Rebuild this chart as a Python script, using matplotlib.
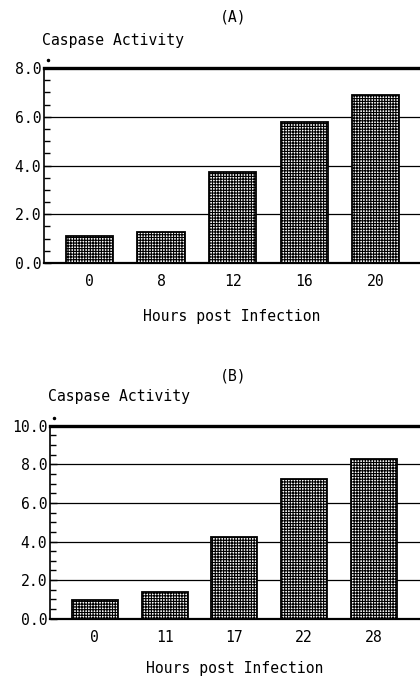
import matplotlib.pyplot as plt
from matplotlib.ticker import MultipleLocator, FormatStrFormatter

plt.rcParams["font.family"] = ["DejaVu Sans Mono"]
plt.rcParams["hatch.linewidth"] = 0.8

# panel A
hours_a = ["0", "8", "12", "16", "20"]
activity_a = [1.12, 1.27, 3.75, 5.77, 6.9]
# panel B
hours_b = ["0", "11", "17", "22", "28"]
activity_b = [0.95, 1.37, 4.25, 7.22, 8.29]

fig = plt.figure(figsize=(4.2, 6.78), dpi=100)
FS = 10.6


def panel(rect, hours, vals, ymax, title, ylab_xy, title_y, xlim, xlab_y):
    ax = fig.add_axes(rect)
    x = range(len(hours))
    ax.bar(x, vals, width=0.66, color="white", edgecolor="black",
           linewidth=1.3, hatch="++++++", zorder=3)
    ax.set_xlim(*xlim)
    ax.set_ylim(0, ymax)
    ax.yaxis.set_major_locator(MultipleLocator(2))
    ax.yaxis.set_minor_locator(MultipleLocator(0.5))
    ax.yaxis.set_major_formatter(FormatStrFormatter("%.1f"))
    ax.grid(axis="y", color="black", linewidth=0.9, zorder=1)
    ax.set_xticks(list(x))
    ax.set_xticklabels(hours)
    ax.tick_params(axis="x", length=0, pad=8, labelsize=FS)
    ax.tick_params(axis="y", which="major", direction="in", length=5,
                   width=1, pad=2, labelsize=FS)
    ax.tick_params(axis="y", which="minor", direction="in", length=4, width=1)
    ax.spines["right"].set_visible(False)
    ax.spines["top"].set_linewidth(2.4)
    ax.spines["bottom"].set_linewidth(1.6)
    ax.spines["left"].set_linewidth(1.2)
    ax.set_xlabel("Hours post Infection", fontsize=FS)
    ax.xaxis.set_label_coords(0.5, xlab_y)
    fig.text(ylab_xy[0], ylab_xy[1], "Caspase Activity", fontsize=FS,
             ha="left", va="center")
    fig.text(0.555, title_y, title, fontsize=FS, ha="center", va="center")
    ax.plot([0.01], [1.04], marker="o", markersize=1.5, color="black",
            transform=ax.transAxes, clip_on=False)
    return ax


panel([44 / 420, 1 - 263 / 678, 376 / 420, 195 / 678], hours_a, activity_a, 8,
      "(A)", (42 / 420, 1 - 41 / 678), 1 - 17 / 678, (-0.636, 4.62), -0.235)
panel([50 / 420, 1 - 618.7 / 678, 370 / 420, 193 / 678], hours_b, activity_b, 10,
      "(B)", (48 / 420, 1 - 396.7 / 678), 1 - 375.7 / 678, (-0.643, 4.66), -0.22)

fig.savefig("out.png", dpi=100)
